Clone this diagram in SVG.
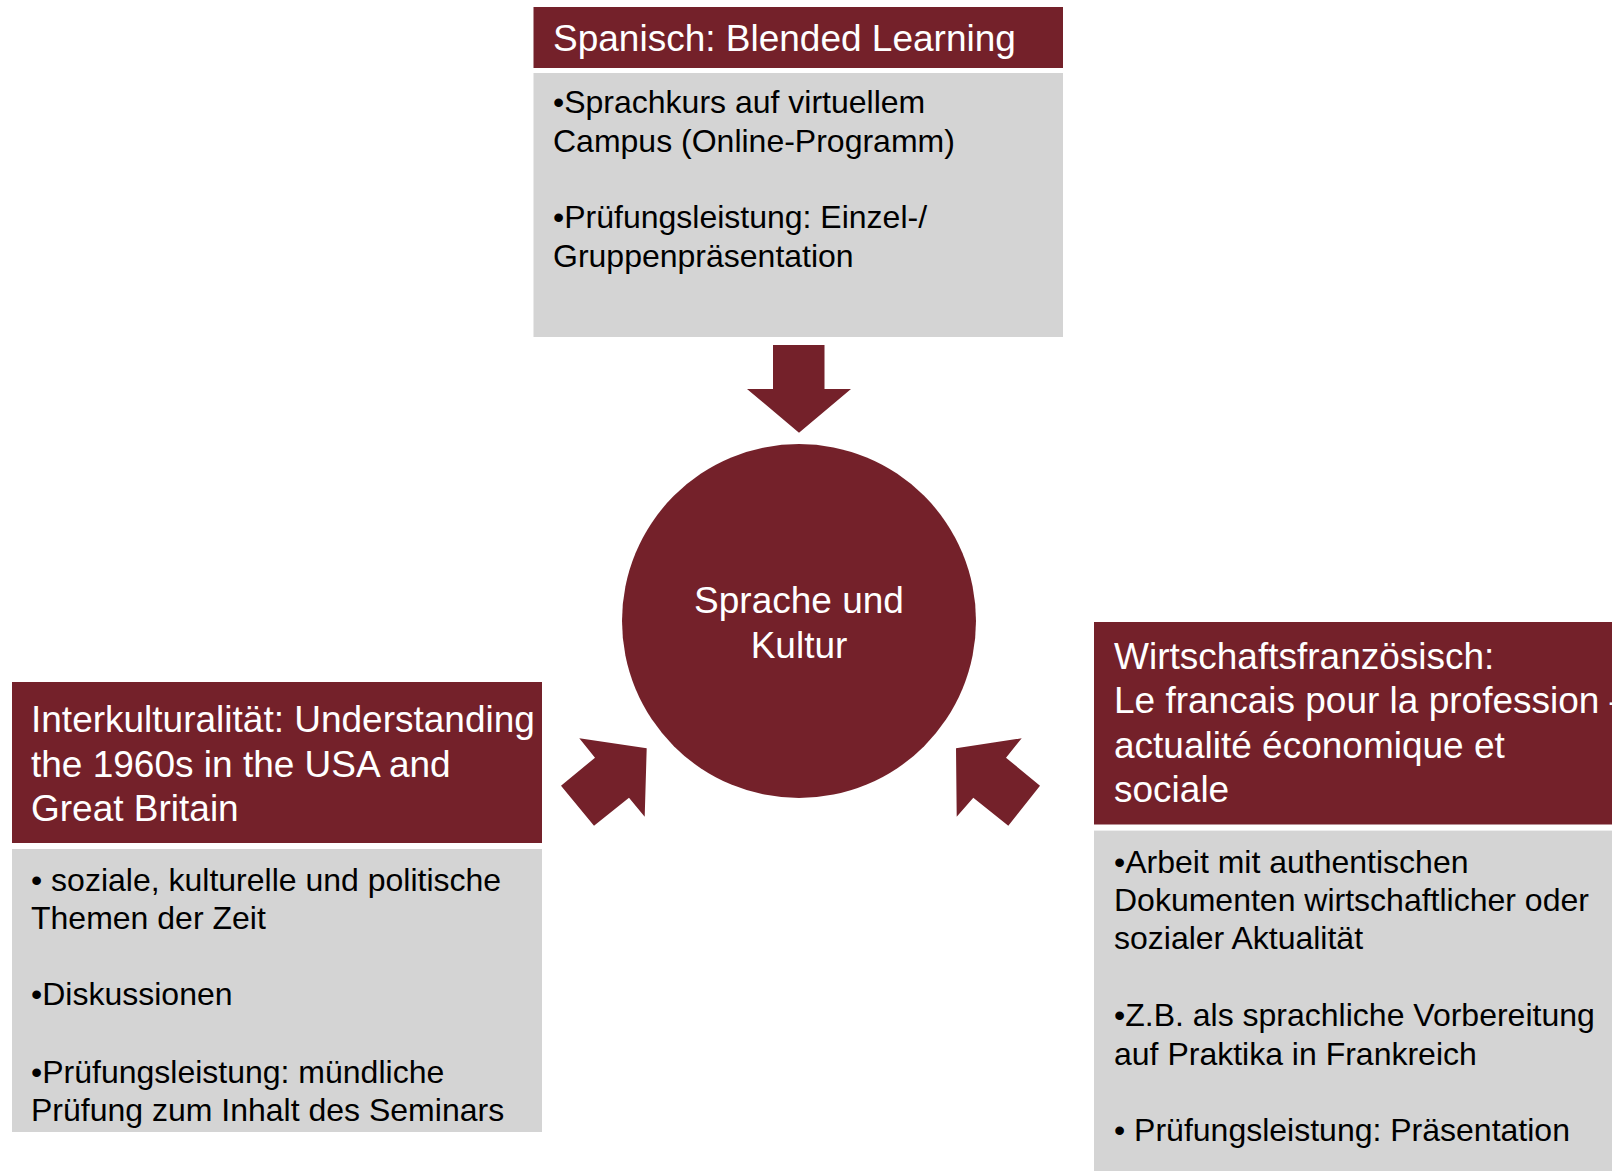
<svg xmlns="http://www.w3.org/2000/svg" width="1612" height="1171" viewBox="0 0 1612 1171">
<style>
.hdr{fill:#74212a}
.body{fill:#d4d4d4}
.arrow{fill:#74212a}
.t{font-family:"Liberation Sans",Arial,sans-serif;font-size:37px;fill:#ffffff}
.b{font-family:"Liberation Sans",Arial,sans-serif;font-size:32px;fill:#000000}
</style>
<rect width="1612" height="1171" fill="#ffffff"/>
<g id="connectors">
<polygon class="arrow" points="773,345 824.5,345 824.5,389 851,389 799,432.7 747,389 773,389"/>
<polygon class="arrow" points="579.3,738.3 646.7,748.3 644.7,816.7 629,797.7 594,825.7 561,785.7 595,757.7"/>
<polygon class="arrow" points="1021.7,738.3 956,748.3 956.7,816.7 973.3,797.7 1008.3,825.7 1040,785.7 1006,757.7"/>
</g>
<g id="node-spanisch">
<rect class="hdr" x="533.5" y="7" width="529.5" height="61"/>
<rect class="body" x="533.5" y="73" width="529.5" height="264"/>
<text class="t" x="553" y="51">Spanisch: Blended Learning</text>
<text class="b" x="553" y="113">•Sprachkurs auf virtuellem</text>
<text class="b" x="553" y="151.5">Campus (Online-Programm)</text>
<text class="b" x="553" y="228">•Prüfungsleistung: Einzel-/</text>
<text class="b" x="553" y="266.5">Gruppenpräsentation</text>
</g>
<g id="node-center">
<circle class="arrow" cx="799" cy="621" r="177"/>
<text class="t" x="799" y="613" text-anchor="middle">Sprache und</text>
<text class="t" x="799" y="657.5" text-anchor="middle">Kultur</text>
</g>
<g id="node-interkulturalitaet">
<rect class="hdr" x="12" y="682" width="530" height="161"/>
<rect class="body" x="12" y="849" width="530" height="283"/>
<text class="t" x="31" y="732.3">Interkulturalität: Understanding</text>
<text class="t" x="31" y="776.7">the 1960s in the USA and</text>
<text class="t" x="31" y="821">Great Britain</text>
<text class="b" x="31" y="891">• soziale, kulturelle und politische</text>
<text class="b" x="31" y="929.4">Themen der Zeit</text>
<text class="b" x="31" y="1005">•Diskussionen</text>
<text class="b" x="31" y="1082.5">•Prüfungsleistung: mündliche</text>
<text class="b" x="31" y="1121">Prüfung zum Inhalt des Seminars</text>
</g>
<g id="node-wirtschaftsfranzoesisch">
<rect class="hdr" x="1094" y="622" width="518" height="202.5"/>
<rect class="body" x="1094" y="830.6" width="518" height="340.4"/>
<text class="t" x="1114" y="669">Wirtschaftsfranzösisch:</text>
<text class="t" x="1114" y="713.4">Le francais pour la profession –</text>
<text class="t" x="1114" y="757.8">actualité économique et</text>
<text class="t" x="1114" y="802.2">sociale</text>
<text class="b" x="1114" y="872.5">•Arbeit mit authentischen</text>
<text class="b" x="1114" y="910.9">Dokumenten wirtschaftlicher oder</text>
<text class="b" x="1114" y="949.3">sozialer Aktualität</text>
<text class="b" x="1114" y="1026.1">•Z.B. als sprachliche Vorbereitung</text>
<text class="b" x="1114" y="1064.5">auf Praktika in Frankreich</text>
<text class="b" x="1114" y="1141.3">• Prüfungsleistung: Präsentation</text>
</g>
</svg>
